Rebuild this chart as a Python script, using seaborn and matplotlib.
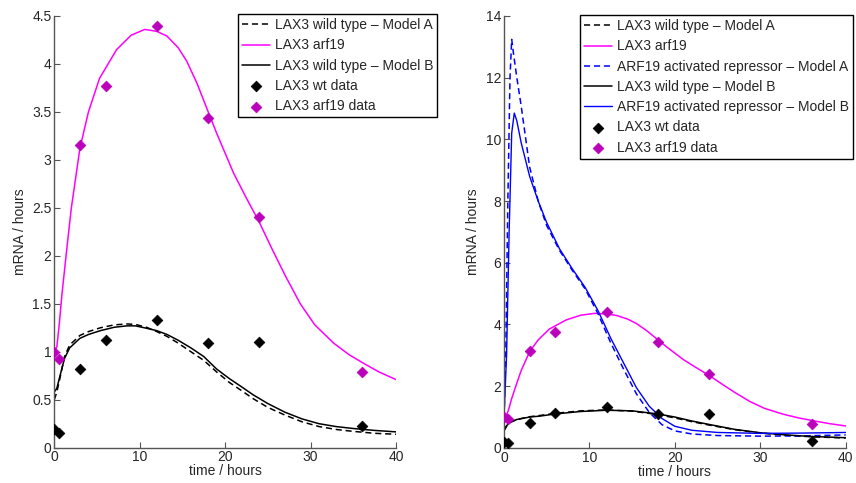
import matplotlib
matplotlib.use('Agg')
import matplotlib.pyplot as plt
import seaborn as sns

# measured data (same on both panels)
t_data = [0, 0.5, 3, 6, 12, 18, 24, 36]
wt_data = [0.19, 0.15, 0.82, 1.12, 1.33, 1.09, 1.10, 0.23]
arf19_data = [1.0, 0.92, 3.15, 3.77, 4.40, 3.44, 2.40, 0.79]

# LAX3 arf19 model curve
t_arf = [0, 0.3, 0.6, 0.9, 1.5, 2, 3, 4, 5.3, 7.3, 9, 10.6, 12, 13.2, 14.5, 15.5, 16.7,
         17.8, 19, 20, 21, 22.5, 24, 25.5, 27, 28.8, 30.5, 32.7, 34.5, 36.2, 38, 40]
arf_curve = [1.0, 1.05, 1.3, 1.6, 2.1, 2.5, 3.12, 3.5, 3.85, 4.15, 4.3, 4.36, 4.34, 4.29, 4.17,
             4.03, 3.8, 3.55, 3.28, 3.07, 2.86, 2.6, 2.35, 2.07, 1.8, 1.5, 1.28, 1.09, 0.97, 0.88,
             0.79, 0.71]

# left panel wild type curves
t_wt = [0, 0.3, 0.7, 1.2, 1.8, 3, 4, 5.4, 7, 8.5, 9.5, 10.8, 12, 13.2, 14.5, 16, 17.5,
        19, 20.5, 22, 23.3, 25, 27, 29, 31, 33, 35, 37.5, 40]
wt_a_left = [0.5, 0.58, 0.74, 0.95, 1.07, 1.17, 1.21, 1.25, 1.28, 1.29, 1.285, 1.255, 1.21, 1.16,
             1.09, 1.0, 0.91, 0.79, 0.68, 0.59, 0.51, 0.42, 0.34, 0.27, 0.22, 0.19, 0.17, 0.15, 0.14]
wt_b_left = [0.58, 0.62, 0.76, 0.93, 1.04, 1.14, 1.18, 1.22, 1.255, 1.27, 1.27, 1.245, 1.22, 1.18,
             1.12, 1.04, 0.95, 0.82, 0.72, 0.63, 0.55, 0.46, 0.37, 0.30, 0.25, 0.22, 0.20, 0.18, 0.165]

# right panel wild type curves
t_wt_r = [0, 0.3, 0.7, 1.5, 3, 4.2, 6, 9, 12, 15, 18, 20, 22, 24, 27, 30, 33, 36, 40]
wt_a_right = [0.55, 0.7, 0.82, 0.92, 1.01, 1.05, 1.12, 1.2, 1.23, 1.19, 1.08, 0.97, 0.85, 0.74,
              0.59, 0.48, 0.41, 0.36, 0.32]
wt_b_right = [0.58, 0.72, 0.83, 0.92, 1.0, 1.03, 1.1, 1.18, 1.22, 1.2, 1.1, 1.0, 0.87, 0.76,
              0.6, 0.49, 0.42, 0.37, 0.33]

# ARF19 activated repressor curves
t_rep_a = [0, 0.2, 0.45, 0.7, 0.9, 1.1, 1.5, 2, 3, 4, 5, 6.5, 8, 9.5, 11, 12.5, 14, 15.5, 17,
           18.5, 20, 22, 25, 30, 35, 40]
rep_a = [1.0, 3.0, 8.0, 12.0, 13.24, 12.8, 12.0, 11.1, 9.1, 8.0, 7.2, 6.4, 5.75, 5.15, 4.35, 3.4,
         2.55, 1.75, 1.15, 0.75, 0.55, 0.45, 0.4, 0.38, 0.39, 0.42]
t_rep_b = [0, 0.3, 0.6, 0.9, 1.2, 1.5, 2, 3, 4, 5, 6.5, 8, 9.5, 11, 12.5, 14, 15.5, 17, 18.5,
           20, 22, 25, 30, 35, 40]
rep_b = [1.0, 3.0, 7.0, 10.2, 10.85, 10.6, 9.9, 8.8, 8.0, 7.3, 6.45, 5.8, 5.2, 4.45, 3.55, 2.75,
         1.95, 1.35, 0.95, 0.7, 0.57, 0.5, 0.47, 0.48, 0.5]

MAG = '#ff00ff'
MAG_PT = '#bb00bb'
BLUE = '#0000ff'

sns.set_style('white')
plt.rcParams['font.family'] = ['Liberation Sans', 'DejaVu Sans']
plt.rcParams['font.size'] = 10

fig = plt.figure(figsize=(8.56, 4.83), dpi=100)
ax1 = fig.add_axes([0.0634, 0.0731, 0.3992, 0.8938])
ax2 = fig.add_axes([0.5888, 0.0727, 0.3992, 0.8944])

dash = (4, 2.5)

# left panel
sns.lineplot(x=t_wt, y=wt_a_left, ax=ax1, color='k', lw=1.1, linestyle=(0, dash),
             label='LAX3 wild type \u2013 Model A', sort=False, estimator=None)
sns.lineplot(x=t_arf, y=arf_curve, ax=ax1, color=MAG, lw=1.1, label='LAX3 arf19',
             sort=False, estimator=None)
sns.lineplot(x=t_wt, y=wt_b_left, ax=ax1, color='k', lw=1.1, label='LAX3 wild type \u2013 Model B',
             sort=False, estimator=None)
sns.scatterplot(x=t_data, y=wt_data, ax=ax1, color='k', marker='D', s=30, edgecolor='k',
                linewidth=0.5, label='LAX3 wt data', zorder=5)
sns.scatterplot(x=t_data, y=arf19_data, ax=ax1, color=MAG_PT, marker='D', s=30, edgecolor=MAG_PT,
                linewidth=0.5, label='LAX3 arf19 data', zorder=5)
ax1.set_xlim(0, 40)
ax1.set_ylim(0, 4.5)
ax1.set_yticks([0, 0.5, 1, 1.5, 2, 2.5, 3, 3.5, 4, 4.5])
ax1.set_yticklabels(['0', '0.5', '1', '1.5', '2', '2.5', '3', '3.5', '4', '4.5'])

# right panel
sns.lineplot(x=t_wt_r, y=wt_a_right, ax=ax2, color='k', lw=1.1, linestyle=(0, dash),
             label='LAX3 wild type \u2013 Model A', sort=False, estimator=None)
sns.lineplot(x=t_arf, y=arf_curve, ax=ax2, color=MAG, lw=1.1, label='LAX3 arf19',
             sort=False, estimator=None)
sns.lineplot(x=t_rep_a, y=rep_a, ax=ax2, color=BLUE, lw=1.1, linestyle=(0, dash),
             label='ARF19 activated repressor \u2013 Model A', sort=False, estimator=None)
sns.lineplot(x=t_wt_r, y=wt_b_right, ax=ax2, color='k', lw=1.1,
             label='LAX3 wild type \u2013 Model B', sort=False, estimator=None)
sns.lineplot(x=t_rep_b, y=rep_b, ax=ax2, color=BLUE, lw=1.0,
             label='ARF19 activated repressor \u2013 Model B', sort=False, estimator=None)
sns.scatterplot(x=t_data, y=wt_data, ax=ax2, color='k', marker='D', s=30, edgecolor='k',
                linewidth=0.5, label='LAX3 wt data', zorder=5)
sns.scatterplot(x=t_data, y=arf19_data, ax=ax2, color=MAG_PT, marker='D', s=30, edgecolor=MAG_PT,
                linewidth=0.5, label='LAX3 arf19 data', zorder=5)
ax2.set_xlim(0, 40)
ax2.set_ylim(0, 14)
ax2.set_yticks(range(0, 15, 2))

for ax, anchor in [(ax1, (0.278, 0.971)), (ax2, (0.6776, 0.969))]:
    ax.set_xticks([0, 10, 20, 30, 40])
    ax.set_xlabel('time / hours', labelpad=0)
    ax.set_ylabel('mRNA / hours', labelpad=4)
    for s in ['top', 'right']:
        ax.spines[s].set_visible(False)
    for s in ['left', 'bottom']:
        ax.spines[s].set_color('#555555')
        ax.spines[s].set_linewidth(1.0)
    ax.tick_params(direction='in', length=4, width=0.8, color='#555555', labelsize=10, pad=2,
                   left=True, bottom=True)
    h, l = ax.get_legend_handles_labels()
    ax.get_legend().remove()
    leg = fig.legend(h, l, loc='upper left', bbox_to_anchor=anchor, bbox_transform=fig.transFigure,
                     fancybox=False, framealpha=1, edgecolor='k', borderaxespad=0,
                     handlelength=2, handletextpad=0.35, labelspacing=0.45, fontsize=10,
                     borderpad=0.3, scatterpoints=1)
    leg.get_frame().set_linewidth(1.0)

fig.savefig('out.png', dpi=100)
